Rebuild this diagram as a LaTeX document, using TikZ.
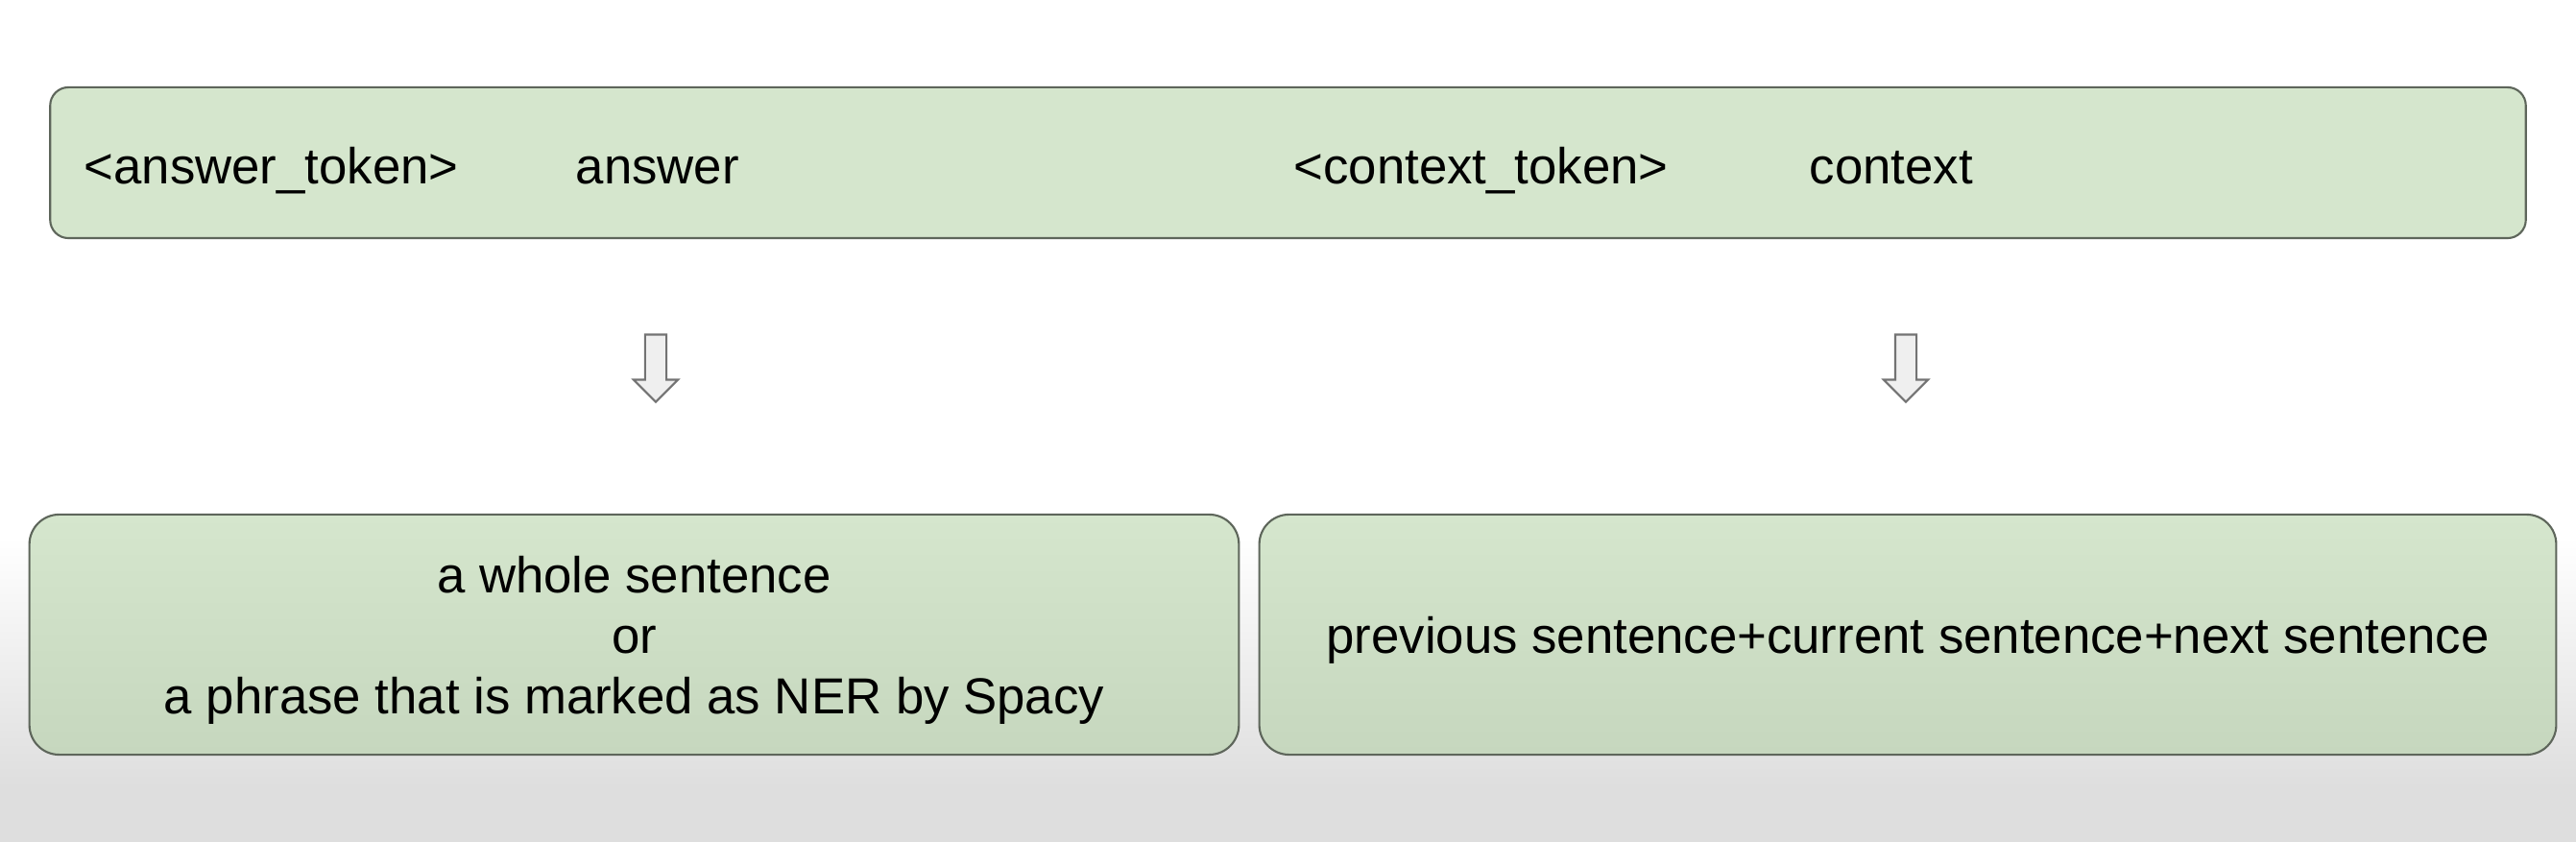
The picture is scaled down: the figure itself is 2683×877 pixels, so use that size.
\documentclass[tikz,border=0pt]{standalone}
\usepackage{fontspec}
\setmainfont{Liberation Sans}
\usetikzlibrary{shapes,arrows,positioning,calc,backgrounds}
\definecolor{boxfill}{HTML}{D5E6CD}
\definecolor{boxlow}{HTML}{C6D7BE}
\definecolor{boxline}{HTML}{5E665B}
\definecolor{bggray}{HTML}{DEDEDE}
\definecolor{arrowfill}{HTML}{EFEFEF}

\begin{document}
\begin{tikzpicture}
   [x=0.01cm,y=-0.01cm,
      txt/.style={font=\fontsize{15}{17.9}\selectfont,inner sep=0pt},
tokenbox/.style={draw=boxline,line width=0.6pt,fill=boxfill,rounded corners=0.19cm,
minimum width=25.77cm,minimum height=1.57cm},
outbox/.style={draw=boxline,line width=0.6pt,top color=boxfill,bottom color=boxlow,
rounded corners=0.31cm,minimum height=2.5cm},
downarrow/.style={single arrow,shape border rotate=270,draw=black!55,line width=0.6pt,
fill=arrowfill,inner sep=0.1cm,minimum height=0.7cm,
single arrow head extend=0.12cm}]
%%
\newcommand{\xytok}{(1341.5,169.5)}
\newcommand{\xyans}{(660.5,661)}
\newcommand{\xyctx}{(1987,661)}
%%
%% background
\useasboundingbox (0,0) rectangle (2683,877);
\fill[white] (0,0) rectangle (2683,560);
\shade[top color=white,bottom color=bggray] (0,559) rectangle (2683,820);
\fill[bggray] (0,819) rectangle (2683,877);
%%
\node (tokens) [tokenbox] at \xytok {};
\node (anstok) [txt,anchor=base west] at (87,192) {<answer\_token>};
\node (ans) [txt,anchor=base west] at (599,192) {answer};
\node (ctxtok) [txt,anchor=base west] at (1347,192) {<context\_token>};
\node (ctx) [txt,anchor=base west] at (1884,192) {context};
%%
\node (ansarrow) [downarrow] at (683,378) {};
\node (ctxarrow) [downarrow] at (1985,378) {};
%%
\node (ansbox) [outbox,minimum width=12.59cm] at \xyans {};
\node (ctxbox) [outbox,minimum width=13.5cm] at \xyctx {};
\node (anstext) [txt,align=center] at ($(ansbox.center)+(0,6)$)
{a whole sentence\\or\\a phrase that is marked as NER by Spacy};
\node (ctxtext) [txt] at ($(ctxbox.center)+(0,6)$)
{previous sentence+current sentence+next sentence};
\end{tikzpicture}
\end{document}
